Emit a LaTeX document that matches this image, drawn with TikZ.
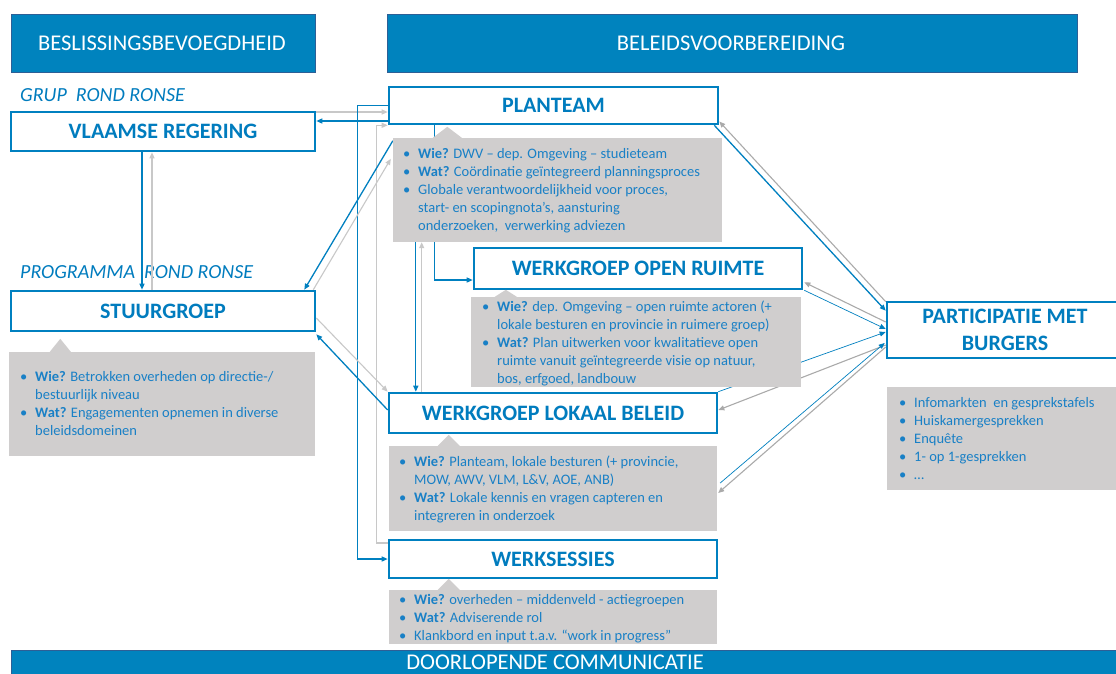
\documentclass[tikz,border=0pt]{standalone}
\usepackage{fontspec}
\setmainfont{Carlito}
\usetikzlibrary{arrows.meta,calc}
\definecolor{cblue}{RGB}{0,128,192}
\definecolor{tblue}{RGB}{0,124,190}
\definecolor{ctext}{RGB}{25,128,198}
\definecolor{hdrfill}{RGB}{0,131,190}
\definecolor{hdrline}{RGB}{45,95,150}
\definecolor{cgray}{RGB}{208,206,206}
\definecolor{dgray}{RGB}{170,170,170}
\definecolor{lgray}{RGB}{200,200,200}
\newcommand\cbul{\makebox[15pt][l]{\textbullet}}
\newcommand\cind{\hspace*{15pt}}
\begin{document}
\begin{tikzpicture}[x=1pt,y=-1pt,
  hdrbox/.style={draw=hdrline, line width=0.8pt, fill=hdrfill, inner sep=0},
  hdrtext/.style={text=white, font=\fontsize{22.5}{26}\selectfont, inner sep=0},
  titlebox/.style={draw=cblue, line width=2.6pt, fill=white, text=tblue, font=\fontsize{22}{27}\selectfont\bfseries, inner sep=0, align=center},
  grplabel/.style={anchor=west, text=tblue, font=\fontsize{20}{24}\selectfont\itshape, inner sep=0},
  callbox/.style={fill=cgray, inner sep=0},
  calltext/.style={anchor=north west, inner sep=0, text=ctext, font=\fontsize{14.5}{18}\selectfont, align=left},
  tipA/.style={-{Triangle[length=6pt,width=5pt]}},
  bl/.style={draw=cblue, line width=1.3pt, tipA},
  bt/.style={draw=cblue, line width=0.7pt, tipA},
  gd/.style={draw=dgray, line width=1.1pt, tipA},
  glt/.style={draw=lgray, line width=1.1pt, tipA}]
\useasboundingbox (0,0) rectangle (1116,673);
\fill[white] (0,0) rectangle (1116,673);

% headers
\node[hdrbox, minimum width=304, minimum height=58] (hdl) at (163,43) {};
\node[hdrtext] (hdlt) at (162,43) {BESLISSINGSBEVOEGDHEID};
\node[hdrbox, minimum width=690, minimum height=58] (hdr) at (732,43) {};
\node[hdrtext] (hdrt) at (731,43) {BELEIDSVOORBEREIDING};

% group labels
\node[grplabel] (grp1) at (20,95) {GRUP\ \ ROND RONSE};
\node[grplabel] (grp2) at (20,272) {PROGRAMMA\ \ ROND RONSE};

% main boxes
\node[titlebox, minimum width=304, minimum height=39] (vr) at (163,131.5) {VLAAMSE REGERING};
\node[titlebox, minimum width=304, minimum height=40] (sg) at (163,311) {STUURGROEP};
\node[titlebox, minimum width=329, minimum height=37] (pt) at (553.5,105.5) {PLANTEAM};
\node[titlebox, minimum width=328, minimum height=41] (wor) at (638,268.5) {WERKGROEP OPEN RUIMTE};
\node[titlebox, minimum width=328, minimum height=40] (wlb) at (553,413) {WERKGROEP LOKAAL BELEID};
\node[titlebox, minimum width=328, minimum height=38] (ws) at (553,559) {WERKSESSIES};
\node[titlebox, minimum width=236, minimum height=56] (part) at (1005,330) {PARTICIPATIE MET\\BURGERS};

% callout backgrounds (positions only, drawn later above connectors)
\path node[callbox, minimum width=306, minimum height=104] (sgc) at (162,404) {}
      node[callbox, minimum width=329, minimum height=104] (ptc) at (557.5,190) {}
      node[callbox, minimum width=330, minimum height=90] (worc) at (636,342) {}
      node[callbox, minimum width=328, minimum height=85] (wlbc) at (553,488.5) {}
      node[callbox, minimum width=328, minimum height=54] (wsc) at (553,617) {}
      node[callbox, minimum width=236, minimum height=103] (partc) at (1005,438.5) {};

% connectors
\draw[bl] ([xshift=-21pt]vr.south) -- ([xshift=-21pt]sg.north);
\draw[glt] ([xshift=-11pt]sg.north) -- ([xshift=-11pt]vr.south);
\draw[bl] ($(pt.west)+(0,15.5)$) coordinate (c1) -- (c1 -| vr.east);
\draw[glt] ($(vr.east)+(0,-19.5)$) coordinate (c2) -- (c2 -| pt.west);
\draw[bl] (pt.west) -- ++(-30,0) |- (ws.west);
\draw[glt] ($(ws.west)+(0,-16)$) -- ++(-11,0) |- (pt.south west);
\draw[bl] ($(ptc.north west)+(0,3)$) -- ($(sg.north east)+(-12,0)$);
\draw[glt] ($(sg.north east)+(-3,0)$) -- ($(ptc.north west)+(-2,21)$);
\draw[bl] ($(wlb.west)+(0,-3)$) -- ($(sg.south east)+(0,2)$);
\draw[glt] ($(sg.east)+(0,7)$) -- (wlb.north west);
\draw[bl] ($(ptc.south west)+(23,0)$) coordinate (c3) -- (c3 |- wlb.north);
\draw[glt] ($(wlb.north west)+(34,0)$) coordinate (c4) -- (c4 |- ptc.south);
\draw[bl] ($(pt.south west)+(47,0)$) |- ($(wor.west)+(0,11.5)$);
\draw[bl] ($(pt.south east)+(-5,0)$) -- ($(part.north west)+(0,10)$);
\draw[gd] ($(part.north west)+(0,1)$) -- ($(pt.east)+(0,16)$);
\draw[gd] ($(part.west)+(0,-8)$) -- ($(wor.south east)+(1,-8)$);
\draw[bt] ($(wor.south east)+(1,0)$) -- ($(part.west)+(0,-1)$);
\draw[bt] (wlb.north east) -- ($(part.west)+(0,2)$);
\draw[gd] ($(part.west)+(0,15)$) -- ($(wlb.east)+(0,-3)$);
\draw[bt] ($(wlbc.east)+(3,-5.5)$) -- ($(part.west)+(-1,13)$);
\draw[gd] ($(part.west)+(0,17)$) -- ($(wlbc.east)+(1,4.5)$);

% callouts on top
\foreach \c in {sgc,ptc,worc,wlbc,wsc,partc}
  \fill[cgray] (\c.north west) rectangle (\c.south east);
\fill[cgray] ($(sgc.north west)+(41,0)$) -- ++(10.5,-13) -- ++(10.5,13) -- cycle;
\fill[cgray] ($(ptc.north west)+(40,0)$) -- ++(14.5,-11) -- ++(14.5,11) -- cycle;
\fill[cgray] ($(worc.north west)+(24,0)$) -- ++(11,-7) -- ++(11,7) -- cycle;
\fill[cgray] ($(wlbc.north west)+(49,0)$) -- ++(11,-11) -- ++(11,11) -- cycle;
\fill[cgray] ($(wsc.north west)+(49,0)$) -- ++(11,-11) -- ++(11,11) -- cycle;

% callout texts
\node[calltext] (sgct) at (20,371) {\cbul\textbf{Wie?} Betrokken overheden op directie-/\\\cind bestuurlijk niveau\\\cbul\textbf{Wat?} Engagementen opnemen in diverse\\\cind beleidsdomeinen};
\node[calltext] (ptct) at (403,148) {\cbul\textbf{Wie?} DWV -- dep. Omgeving -- studieteam\\\cbul\textbf{Wat?} Coördinatie geïntegreerd planningsproces\\\cbul Globale verantwoordelijkheid voor proces,\\\cind start- en scopingnota’s, aansturing\\\cind onderzoeken,\ \ verwerking adviezen};
\node[calltext] (worct) at (482,301) {\cbul\textbf{Wie?} dep. Omgeving -- open ruimte actoren (+\\\cind lokale besturen en provincie in ruimere groep)\\\cbul\textbf{Wat?} Plan uitwerken voor kwalitatieve open\\\cind ruimte vanuit geïntegreerde visie op natuur,\\\cind bos, erfgoed, landbouw};
\node[calltext] (wlbct) at (399,456) {\cbul\textbf{Wie?} Planteam, lokale besturen (+ provincie,\\\cind MOW, AWV, VLM, L\&V, AOE, ANB)\\\cbul\textbf{Wat?} Lokale kennis en vragen capteren en\\\cind integreren in onderzoek};
\node[calltext] (wsct) at (399,594) {\cbul\textbf{Wie?} overheden -- middenveld - actiegroepen\\\cbul\textbf{Wat?} Adviserende rol\\\cbul Klankbord en input t.a.v. “work in progress”};
\node[calltext] (partct) at (899,397) {\cbul Infomarkten\ \ en gesprekstafels\\\cbul Huiskamergesprekken\\\cbul Enquête\\\cbul 1- op 1-gesprekken\\\cbul …};

% bottom bar
\node[hdrbox, minimum width=1115, minimum height=32, anchor=north west] (bar) at (11,650) {};
\node[hdrtext] (bart) at (555,662) {DOORLOPENDE COMMUNICATIE};
\end{tikzpicture}
\end{document}
